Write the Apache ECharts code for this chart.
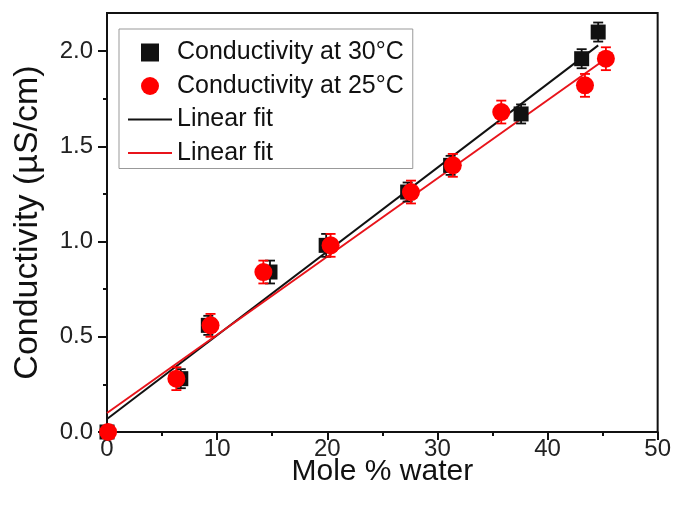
<!DOCTYPE html>
<html>
<head>
<meta charset="utf-8">
<script src="https://cdn.jsdelivr.net/npm/echarts@6/dist/echarts.min.js"></script>
<style>
  html, body { margin: 0; padding: 0; background: #fff; }
  #chart { width: 674px; height: 505px; }
</style>
</head>
<body>
<div id="chart"></div>
<script>
// conductivity at 30 C (black squares)
var x30 = [0, 6.7, 9.2, 14.8, 19.9, 27.3, 31.2, 37.6, 43.1, 44.6];
var y30 = [0.0, 0.28, 0.56, 0.84, 0.98, 1.26, 1.40, 1.67, 1.96, 2.10];
var e30 = [0.02, 0.05, 0.05, 0.06, 0.06, 0.05, 0.05, 0.05, 0.05, 0.05];

// conductivity at 25 C (red circles)
var x25 = [0.1, 6.3, 9.4, 14.2, 20.3, 27.6, 31.4, 35.8, 43.4, 45.3];
var y25 = [0.0, 0.28, 0.56, 0.84, 0.98, 1.26, 1.40, 1.68, 1.82, 1.96];
var e25 = [0.02, 0.06, 0.06, 0.06, 0.06, 0.06, 0.06, 0.06, 0.06, 0.06];

// linear fits, end points
var fit30X = [0, 44.6];
var fit30Y = [0.068, 2.03];
var fit25X = [0, 45.3];
var fit25Y = [0.10, 1.96];

var xTicks = [0, 10, 20, 30, 40, 50];
var yTicks = [0, 0.5, 1.0, 1.5, 2.0];

var FONT = '"Liberation Sans", Arial, sans-serif';
var BLACK = '#111';
var RED = '#f00';

function zip(a, b, c) {
    var out = [];
    for (var i = 0; i < a.length; i++) {
        out.push(c ? [a[i], b[i], c[i]] : [a[i], b[i]]);
    }
    return out;
}

function errorBars(color) {
    return function (params, api) {
        var x = api.value(0), y = api.value(1), e = api.value(2);
        var top = api.coord([x, y + e]);
        var bot = api.coord([x, y - e]);
        var w = 5;
        var style = { stroke: color, lineWidth: 1.8 };
        return {
            type: 'group',
            children: [
                { type: 'line', shape: { x1: top[0], y1: top[1], x2: bot[0], y2: bot[1] }, style: style },
                { type: 'line', shape: { x1: top[0] - w, y1: top[1], x2: top[0] + w, y2: top[1] }, style: style },
                { type: 'line', shape: { x1: bot[0] - w, y1: bot[1], x2: bot[0] + w, y2: bot[1] }, style: style }
            ]
        };
    };
}

var chart = echarts.init(document.getElementById('chart'));

var lineIcon = 'path://M0,0L44,0L44,2L0,2Z';

var option = {
    animation: false,
    textStyle: { fontFamily: FONT },
    grid: {
        left: 107, right: 16, top: 13, bottom: 73,
        show: true, borderColor: BLACK, borderWidth: 2, backgroundColor: 'transparent'
    },
    legend: {
        left: 119, top: 29,
        orient: 'vertical',
        padding: [11, 9, 3, 9],
        borderColor: '#999', borderWidth: 1,
        itemWidth: 44, itemHeight: 18, itemGap: 8.5,
        textStyle: { fontSize: 25, color: BLACK, fontFamily: FONT },
        formatter: function (name) {
            return name.indexOf('Linear fit') === 0 ? 'Linear fit' : name;
        },
        data: [
            { name: 'Conductivity at 30\u00b0C', icon: 'path://M0,0L1,0L1,1L0,1Z', itemStyle: { color: BLACK } },
            { name: 'Conductivity at 25\u00b0C', icon: 'circle', itemStyle: { color: RED } },
            { name: 'Linear fit 30', icon: lineIcon, itemStyle: { color: BLACK } },
            { name: 'Linear fit 25', icon: lineIcon, itemStyle: { color: '#e8141b' } }
        ]
    },
    xAxis: {
        type: 'value', min: 0, max: 50, interval: 10,
        name: 'Mole % water', nameLocation: 'middle', nameGap: 25, nameMoveOverlap: false,
        nameTextStyle: { fontSize: 30, color: BLACK, fontFamily: FONT },
        axisLine: { lineStyle: { color: BLACK, width: 2 } },
        axisTick: { show: true, length: 8, lineStyle: { color: BLACK, width: 2 }, customValues: xTicks },
        minorTick: { show: true, splitNumber: 2, length: 4, lineStyle: { color: BLACK, width: 2 } },
        splitLine: { show: false },
        axisLabel: { fontSize: 24, color: '#222', margin: 5, customValues: xTicks }
    },
    yAxis: {
        type: 'value', min: 0, max: 2.2, interval: 0.5,
        name: 'Conductivity (\u00b5S/cm)', nameLocation: 'middle', nameGap: 62, nameMoveOverlap: false,
        nameTextStyle: { fontSize: 34, color: BLACK, fontFamily: FONT },
        axisLine: { lineStyle: { color: BLACK, width: 2 } },
        axisTick: { show: true, length: 9, lineStyle: { color: BLACK, width: 2 }, customValues: yTicks },
        minorTick: { show: true, splitNumber: 2, length: 4, lineStyle: { color: BLACK, width: 2 } },
        splitLine: { show: false },
        axisLabel: {
            fontSize: 24, color: '#222', margin: 14, customValues: yTicks,
            formatter: function (v) { return v.toFixed(1); }
        }
    },
    series: [
        {
            name: 'Linear fit 30', type: 'line', data: zip(fit30X, fit30Y),
            symbol: 'none', lineStyle: { color: BLACK, width: 2 }, itemStyle: { color: BLACK }, z: 2
        },
        {
            name: 'Linear fit 25', type: 'line', data: zip(fit25X, fit25Y),
            symbol: 'none', lineStyle: { color: '#e8141b', width: 2 }, itemStyle: { color: '#e8141b' }, z: 2
        },
        {
            name: 'Conductivity at 30\u00b0C', type: 'custom', data: zip(x30, y30, e30),
            renderItem: errorBars(BLACK), clip: true, z: 3, encode: { x: 0, y: 1 },
            itemStyle: { color: BLACK }
        },
        {
            name: 'Conductivity at 30\u00b0C', type: 'scatter', data: zip(x30, y30),
            symbol: 'rect', symbolSize: 15, itemStyle: { color: BLACK, opacity: 1 }, clip: true, z: 4
        },
        {
            name: 'Conductivity at 25\u00b0C', type: 'custom', data: zip(x25, y25, e25),
            renderItem: errorBars(RED), clip: true, z: 5, encode: { x: 0, y: 1 },
            itemStyle: { color: RED }
        },
        {
            name: 'Conductivity at 25\u00b0C', type: 'scatter', data: zip(x25, y25),
            symbol: 'circle', symbolSize: 18, itemStyle: { color: RED, opacity: 1 }, clip: true, z: 6
        }
    ]
};

chart.setOption(option);
</script>
</body>
</html>
